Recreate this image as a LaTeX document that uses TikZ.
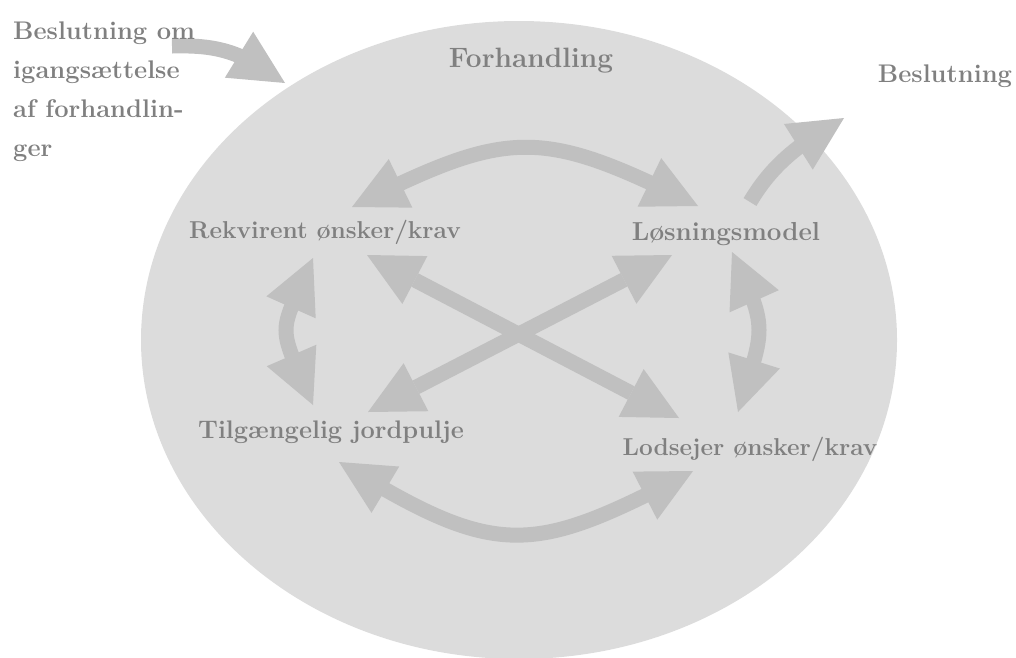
\documentclass[tikz,border=0pt]{standalone}
\usepackage{fontspec}
\usetikzlibrary{arrows.meta,bending}
\definecolor{ellfill}{HTML}{DCDCDC}
\definecolor{arrgray}{HTML}{C0C0C0}
\definecolor{txtgray}{HTML}{808080}
\newcommand\lblfont[1]{\fontsize{#1}{#1}\selectfont\bfseries}
\begin{document}
\begin{tikzpicture}[x=1pt,y=-1pt,
  lbl/.style={inner sep=0pt, anchor=base, text=txtgray},
  head/.tip={Triangle[length=54pt,width=54pt,line width=0pt]},
  twoway/.style={draw=arrgray, line width=15pt, {head}-{head}},
  oneway/.style={draw=arrgray, line width=15pt, -{head}}]
\useasboundingbox (0,0) rectangle (1016,657);
\fill[ellfill] (519,340) ellipse [x radius=378pt, y radius=319pt];

% arrow end points
\coordinate (rkA) at (352,207);
\coordinate (lsA) at (698,206);
\coordinate (rkB) at (367,255);
\coordinate (ldB) at (679,418);
\coordinate (tgC) at (368,412);
\coordinate (lsC) at (672,255);
\coordinate (rkD) at (313,258);
\coordinate (tgD) at (313,405);
\coordinate (lsE) at (732,252);
\coordinate (ldE) at (738,412);
\coordinate (tgF) at (339,462);
\coordinate (ldF) at (693,471);
\coordinate (inS) at (172,46);
\coordinate (inT) at (285,83);
\coordinate (outS) at (750,202);
\coordinate (outT) at (844,118);

\draw[twoway] (rkA) .. controls (510,128) and (540,127) .. (lsA);
\draw[twoway] (rkB) -- (ldB);
\draw[twoway] (tgC) -- (lsC);
\draw[twoway] (rkD) .. controls (278,339) and (276,319) .. (tgD);
\draw[twoway] (lsE) .. controls (770,332) and (764,327) .. (ldE);
\draw[twoway] (tgF) .. controls (498,560) and (531,556) .. (ldF);
\draw[oneway] (inS) .. controls (215,45) and (240,50) .. (inT);
\draw[oneway] (outS) .. controls (768,172) and (790,148) .. (outT);

\node[lbl, font=\lblfont{28}] (forh) at (531,67) {Forhandling};
\node[lbl, font=\lblfont{24.4}] (rekv) at (325,238) {Rekvirent ønsker/krav};
\node[lbl, font=\lblfont{26}] (losn) at (726,240) {Løsningsmodel};
\node[lbl, font=\lblfont{25.4}] (tilg) at (331,438) {Tilgængelig jordpulje};
\node[lbl, font=\lblfont{24.4}] (lods) at (750,455) {Lodsejer ønsker/krav};
\node[lbl, font=\lblfont{25.5}] (besl) at (945,82) {Beslutning};
\node[inner sep=0pt, anchor=north west, align=left, text=txtgray,
  font=\fontsize{25.5}{39}\selectfont\bfseries] (start) at (13,22)
  {Beslutning om\\igangsættelse\\af forhandlin-\\ger};
\end{tikzpicture}
\end{document}
